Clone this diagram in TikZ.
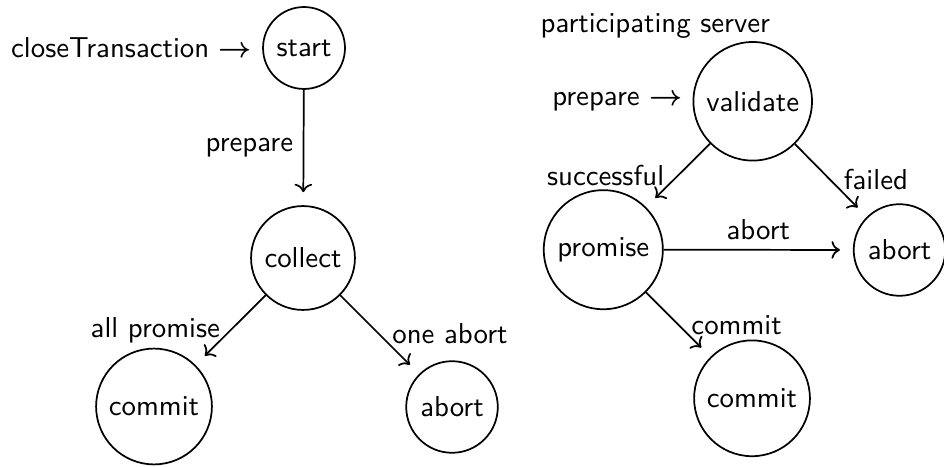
\documentclass[tikz,border=0pt]{standalone}
\usetikzlibrary{arrows.meta}
\begin{document}
\begin{tikzpicture}[x=0.347pt, y=-0.347pt, font=\sffamily,
  state/.style={draw, circle, line width=0.6pt},
  trans/.style={->, line width=0.6pt, shorten >=4.5pt},
  lbl/.style={inner sep=1pt}]
\useasboundingbox (0,0) rectangle (944,467);

% coordinator
\node[state] (start)   at (304,48)    {start};
\node[state] (collect) at (303,258)   {collect};
\node[state] (commitL) at (154,406.5) {commit};
\node[state] (abortL)  at (452,407)   {abort};
\node[anchor=east] (inclose) at (start.west) {closeTransaction {\boldmath$\rightarrow$}};

\draw[trans] (start) -- node[midway, left] (lprep) {prepare} (collect);
\draw[trans] (collect) -- node[lbl, pos=0.6, anchor=base east] (lall) {all promise} (commitL);
\draw[trans] (collect) -- node[lbl, pos=0.614, anchor=base west] (lone) {one abort} (abortL);

% participating server
\node[anchor=base] (title) at (655.3,32.7) {participating server};
\node[state] (validate) at (752.7,101.3) {validate};
\node[state] (promise)  at (603.3,249.7) {promise};
\node[state] (abortR)   at (899.5,250)   {abort};
\node[state] (commitR)  at (752,398.3)   {commit};
\node[anchor=east] (inprep) at (validate.west) {prepare {\boldmath$\rightarrow$}};

\draw[trans] (validate) -- node[lbl, pos=0.66, anchor=base east] (lsucc) {successful} (promise);
\draw[trans] (validate) -- node[lbl, pos=0.628, anchor=base west] (lfail) {failed} (abortR);
\draw[trans] (promise) -- node[midway, above] (labort) {abort} (abortR);
\draw[trans] (promise) -- node[lbl, pos=0.647, anchor=base west] (lcommit) {commit} (commitR);
\end{tikzpicture}
\end{document}
